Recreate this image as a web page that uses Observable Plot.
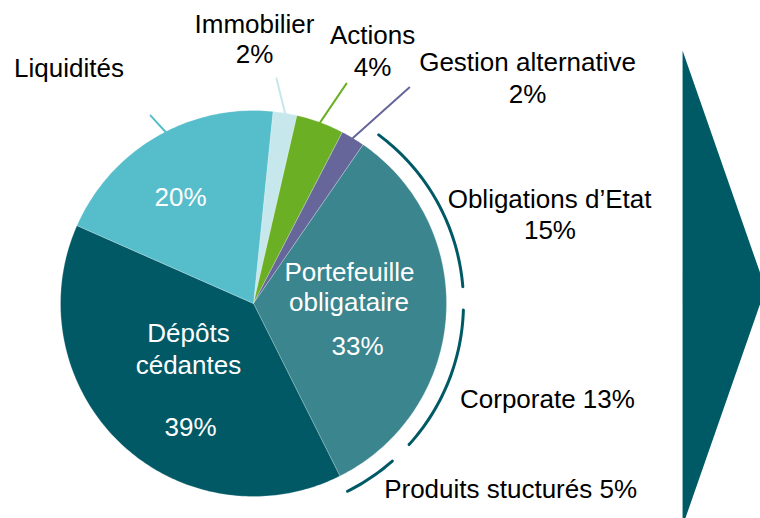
<!DOCTYPE html>
<html><head><meta charset="utf-8">
<script src="https://cdn.jsdelivr.net/npm/d3@7"></script>
<script src="https://cdn.jsdelivr.net/npm/@observablehq/plot@0.6"></script>
<style>html,body{margin:0;padding:0;background:#fff;overflow:hidden}</style>
</head><body><div id="chart"></div>
<script>
// ---- data ----
const categories = ["Immobilier","Actions","Gestion alternative","Portefeuille obligataire","Dépôts cédantes","Liquidités"];
const values = [2,4,2,33,39,20];
const colors = ["#C6E8EC","#6BB024","#66669A","#3A858E","#015966","#56BDCB"];
const subCategories = ["Obligations d’Etat","Corporate","Produits stucturés"];
const subValues = [15,13,5];

// ---- layout ----
const W = 760, H = 518, CX = 253, CY = 303, R = 193;
const START = 5.8;           // first slice start angle (deg, clockwise from 12 o'clock)
const DARK = "#005A66";
const rad = a => a * Math.PI / 180;
const pt = (a, r) => ({x: r * Math.sin(rad(a)), y: r * Math.cos(rad(a))});

const total = d3.sum(values);
let acc = START;
const slices = categories.map((c, i) => {
  const a0 = acc, a1 = acc + values[i] / total * 360; acc = a1;
  return {name: c, value: values[i], color: colors[i], a0, a1, mid: (a0 + a1) / 2};
});

const slicePts = slices.flatMap(s => {
  const n = Math.max(4, Math.ceil(s.a1 - s.a0));
  const pts = [{x: 0, y: 0, name: s.name, color: s.color}];
  for (let k = 0; k <= n; k++) pts.push({...pt(s.a0 + (s.a1 - s.a0) * k / n, 1), name: s.name, color: s.color});
  pts.push({x: 0, y: 0, name: s.name, color: s.color});
  return pts;
});

// bracket arcs around the bond portfolio slice, split by sub-shares
const port = slices[3];
const subTotal = d3.sum(subValues);
const bracketR = 1.088, halfGap = 3.2;
let b = port.a0;
const bracketPts = subValues.flatMap((v, i) => {
  const s0 = b, s1 = b + v / subTotal * (port.a1 - port.a0); b = s1;
  const a0 = i === 0 ? s0 + 2 : s0 + halfGap;
  const a1 = i === subValues.length - 1 ? s1 : s1 - halfGap;
  const n = Math.ceil(a1 - a0);
  return d3.range(n + 1).map(k => ({...pt(a0 + (a1 - a0) * k / n, bracketR), seg: subCategories[i]}));
});

// leader lines: [angle, radius] pairs
const leaders = [
  {name: categories[5], color: colors[5], from: [-27, 0.99], to: [-28.7, 1.11]},
  {name: categories[0], color: colors[0], from: [slices[0].mid, 1], to: [5.84, 1.172]},
  {name: categories[1], color: colors[1], from: [slices[1].mid, 1], to: [22.9, 1.237]},
  {name: categories[2], color: colors[2], from: [slices[2].mid, 1], to: [35.8, 1.38]}
];
const leaderPts = leaders.flatMap(l => [
  {...pt(l.from[0], l.from[1]), name: l.name, color: l.color},
  {...pt(l.to[0], l.to[1]), name: l.name, color: l.color}
]);

// big arrow on the right (chart units)
const arrowPts = [{x: 2.223, y: 1.311}, {x: 2.653, y: 0.078}, {x: 2.223, y: -1.155}, {x: 2.223, y: 1.311}];

const pct = v => v + "%";
const BLACK = "#000", WHITE = "#fff";
const labels = [
  {text: categories[5], x: -0.956, y: 1.171, color: BLACK},
  {text: categories[0], x: 0.005, y: 1.404, color: BLACK},
  {text: pct(values[0]), x: 0.005, y: 1.244, color: BLACK},
  {text: categories[1], x: 0.617, y: 1.347, color: BLACK},
  {text: pct(values[1]), x: 0.617, y: 1.181, color: BLACK},
  {text: categories[2], x: 1.420, y: 1.207, color: BLACK},
  {text: pct(values[2]), x: 1.420, y: 1.041, color: BLACK},
  {text: subCategories[0], x: 1.534, y: 0.497, color: BLACK},
  {text: pct(subValues[0]), x: 1.536, y: 0.332, color: BLACK},
  {text: subCategories[1] + " " + pct(subValues[1]), x: 1.523, y: -0.539, color: BLACK},
  {text: subCategories[2] + " " + pct(subValues[2]), x: 1.332, y: -1.010, color: BLACK},
  {text: pct(values[5]), x: -0.378, y: 0.503, color: WHITE},
  {text: "Portefeuille", x: 0.497, y: 0.114, color: WHITE},
  {text: "obligataire", x: 0.495, y: -0.041, color: WHITE},
  {text: pct(values[3]), x: 0.539, y: -0.269, color: WHITE},
  {text: "Dépôts", x: -0.337, y: -0.202, color: WHITE},
  {text: "cédantes", x: -0.337, y: -0.363, color: WHITE},
  {text: pct(values[4]), x: -0.326, y: -0.684, color: WHITE}
];

const plot = Plot.plot({
  width: W, height: H, margin: 0,
  style: {fontFamily: "'Liberation Sans', Arial, sans-serif", background: "#fff"},
  x: {domain: [-CX / R, (W - CX) / R], axis: null},
  y: {domain: [-(H - CY) / R, CY / R], axis: null},
  marks: [
    Plot.line(arrowPts, {x: "x", y: "y", fill: DARK, stroke: "none"}),
    Plot.line(slicePts, {x: "x", y: "y", z: "name", fill: "color", stroke: "white", strokeWidth: 0.4, strokeOpacity: 0.6, strokeLinejoin: "round"}),
    Plot.line(bracketPts, {x: "x", y: "y", z: "seg", stroke: DARK, strokeWidth: 3}),
    Plot.line(leaderPts, {x: "x", y: "y", z: "name", stroke: "color", strokeWidth: 2}),
    Plot.text(labels, {x: "x", y: "y", text: "text", fill: "color", fontSize: 26, lineAnchor: "bottom", textAnchor: "middle"})
  ]
});
document.getElementById("chart").appendChild(plot);
</script>
</body></html>
